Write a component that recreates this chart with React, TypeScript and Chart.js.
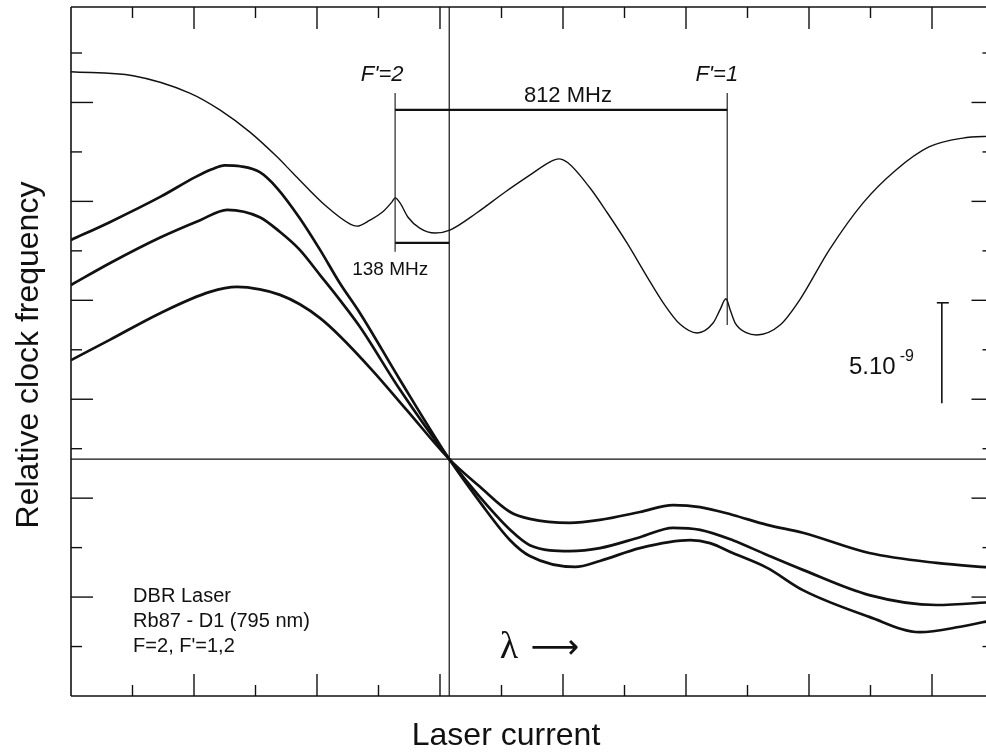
import React, { useEffect, useRef } from "react";
import { Chart, registerables } from "chart.js";

Chart.register(...registerables);

// ---- data (arbitrary units: 1 unit = one minor tick interval) ----
const signalX = [0, 1.01, 1.93, 2.42, 2.91, 3.35, 3.61, 4.16, 4.54, 4.65, 4.86, 5.07, 5.22, 5.27, 5.35, 5.48, 5.67, 5.92, 6.16, 6.6, 7.06, 7.46, 7.79, 7.93, 8.08, 8.44, 8.72, 9.04, 9.37, 9.63, 9.9, 10.18, 10.44, 10.55, 10.65, 10.72, 10.8, 10.99, 11.15, 11.53, 11.85, 12.33, 12.88, 13.41, 13.95, 14.5, 15];
const signalY = [12.62, 12.54, 12.19, 11.85, 11.4, 10.9, 10.57, 9.89, 9.54, 9.5, 9.62, 9.79, 9.99, 10.07, 9.97, 9.68, 9.46, 9.36, 9.42, 9.77, 10.19, 10.53, 10.8, 10.86, 10.78, 10.27, 9.77, 9.16, 8.47, 7.95, 7.52, 7.34, 7.54, 7.8, 8.03, 7.8, 7.54, 7.34, 7.3, 7.5, 8.01, 9.02, 9.97, 10.63, 11.1, 11.28, 11.32];

const curveAX = [0, 0.63, 1.45, 2.02, 2.29, 2.5, 2.75, 3.07, 3.35, 3.72, 4.05, 4.37, 4.7, 5.35, 6.15, 6.65, 7.14, 7.46, 8.2, 8.6, 9.25, 10.07, 10.39, 10.76, 11.32, 11.9, 12.98, 13.8, 14.46, 15];
const curveAY = [9.22, 9.58, 10.09, 10.49, 10.65, 10.73, 10.71, 10.59, 10.27, 9.66, 9.02, 8.35, 7.74, 6.39, 4.79, 3.92, 3.15, 2.83, 2.61, 2.73, 2.99, 3.15, 3.09, 2.89, 2.59, 2.14, 1.6, 1.29, 1.4, 1.54];

const curveBX = [0, 0.63, 1.45, 2.1, 2.54, 3.07, 3.4, 3.72, 4.05, 4.37, 4.7, 5.35, 6.15, 6.65, 7.14, 7.46, 8.11, 8.6, 9.25, 9.79, 10.23, 10.76, 11.32, 11.9, 12.98, 14.07, 15];
const curveBY = [8.31, 8.75, 9.27, 9.62, 9.83, 9.68, 9.38, 9.02, 8.51, 8.01, 7.46, 6.19, 4.79, 4.02, 3.36, 3.05, 2.93, 2.99, 3.21, 3.4, 3.36, 3.15, 2.85, 2.55, 2.04, 1.84, 1.9];

const curveCX = [0, 0.63, 1.45, 2.26, 2.7, 3.07, 3.4, 3.72, 4.05, 4.37, 4.91, 5.46, 6.15, 6.65, 7.14, 7.46, 8.11, 8.6, 9.25, 9.79, 10.23, 10.76, 11.32, 11.9, 12.98, 14.07, 15];
const curveCY = [6.79, 7.2, 7.74, 8.17, 8.27, 8.22, 8.11, 7.92, 7.64, 7.28, 6.57, 5.78, 4.79, 4.23, 3.72, 3.58, 3.5, 3.56, 3.72, 3.86, 3.82, 3.66, 3.46, 3.3, 2.89, 2.69, 2.59];

const xTicks = [1, 2, 3, 4, 5, 6, 7, 8, 9, 10, 11, 12, 13, 14];
const yTicks = [1, 2, 3, 4, 5, 6, 7, 8, 9, 10, 11, 12, 13];
const xMax = 15;
const yMax = 13.93;

const crossX = 6.15; // vertical reference line
const crossY = 4.79; // horizontal reference line

const peakF2X = 5.27;
const peakF1X = 10.67;
const f2LineY = [8.98, 12.19];
const f1LineY = [7.5, 12.19];
const span812Y = 11.85;
const span138Y = 9.16;
const scaleBarX = 14.16;
const scaleBarY = [5.92, 7.95];

const infoLines = ["DBR Laser", "Rb87 - D1 (795 nm)", "F=2, F'=1,2"];
const infoY = [1.9, 1.4, 0.89];

const INK = "#111";
const SANS = '"Liberation Sans", Arial, Helvetica, sans-serif';
const SERIF = '"Liberation Serif", "DejaVu Serif", serif';

function pts(xs: number[], ys: number[]) {
  return xs.map((x, i) => ({ x, y: ys[i] }));
}

const framePlugin = {
  id: "framePlugin",
  afterDatasetsDraw(chart: any) {
    const ctx = chart.ctx as CanvasRenderingContext2D;
    const xs = chart.scales.x;
    const ys = chart.scales.y;
    const X = (v: number) => xs.getPixelForValue(v);
    const Y = (v: number) => ys.getPixelForValue(v);
    const L = X(0), R = X(xMax), T = Y(yMax), B = Y(0);
    ctx.save();
    ctx.strokeStyle = INK;
    ctx.fillStyle = INK;
    ctx.lineCap = "butt";

    const line = (x1: number, y1: number, x2: number, y2: number, w: number) => {
      ctx.lineWidth = w;
      ctx.beginPath();
      ctx.moveTo(x1, y1);
      ctx.lineTo(x2, y2);
      ctx.stroke();
    };

    // frame
    line(L, T, R, T, 1.6);
    line(L, B, R, B, 1.6);
    line(L, T, L, B, 1.6);
    line(R, T, R, B, 1.6);

    // ticks (inward)
    xTicks.forEach((t) => {
      const len = t % 2 === 0 ? 22 : 11;
      const px = X(t);
      line(px, T, px, T + len, 1.4);
      line(px, B, px, B - len, 1.4);
    });
    yTicks.forEach((t) => {
      const len = t % 2 === 0 ? 22 : 11;
      const py = Y(t);
      line(L, py, L + len, py, 1.4);
      line(R, py, R - len, py, 1.4);
    });

    // reference lines
    line(X(crossX), T, X(crossX), B, 1.2);
    line(L, Y(crossY), R, Y(crossY), 1.2);

    // hyperfine annotations
    line(X(peakF2X), Y(f2LineY[0]), X(peakF2X), Y(f2LineY[1]), 1.1);
    line(X(peakF1X), Y(f1LineY[0]), X(peakF1X), Y(f1LineY[1]), 1.1);
    line(X(peakF2X), Y(span812Y), X(peakF1X), Y(span812Y), 2.2);
    line(X(peakF2X), Y(span138Y), X(crossX), Y(span138Y), 2.2);

    // scale bar
    line(X(scaleBarX), Y(scaleBarY[0]), X(scaleBarX), Y(scaleBarY[1]), 1.6);
    line(X(scaleBarX) - 5, Y(scaleBarY[1]), X(scaleBarX) + 7, Y(scaleBarY[1]), 1.6);

    // texts
    ctx.textBaseline = "alphabetic";
    ctx.textAlign = "center";
    ctx.font = `italic 22px ${SANS}`;
    ctx.fillText("F'=2", X(5.06), Y(12.43));
    ctx.fillText("F'=1", X(10.5), Y(12.43));
    ctx.font = `22px ${SANS}`;
    ctx.fillText("812 MHz", X(8.08), Y(12.01));
    ctx.font = `19px ${SANS}`;
    ctx.fillText("138 MHz", X(5.19), Y(8.51));

    ctx.textAlign = "left";
    ctx.font = `24px ${SANS}`;
    const sx = X(12.65), sy = Y(6.52);
    ctx.fillText("5.10", sx, sy);
    const w = ctx.measureText("5.10").width;
    ctx.font = `16px ${SANS}`;
    ctx.fillText("-9", sx + w + 4, sy - 13);

    ctx.font = `20px ${SANS}`;
    infoLines.forEach((s, i) => ctx.fillText(s, X(1.01), Y(infoY[i])));

    ctx.font = `38px ${SERIF}`;
    ctx.fillText("λ", X(6.97), Y(0.77));
    ctx.font = `34px "DejaVu Sans", sans-serif`;
    ctx.fillText("⟶", X(7.47), Y(0.77));

    // axis titles
    ctx.textAlign = "center";
    ctx.font = `32px ${SANS}`;
    ctx.fillText("Laser current", 506, 745);
    ctx.save();
    ctx.translate(38, 355);
    ctx.rotate(-Math.PI / 2);
    ctx.fillText("Relative clock frequency", 0, 0);
    ctx.restore();

    ctx.restore();
  },
};

export default function App() {
  const ref = useRef<HTMLCanvasElement | null>(null);
  useEffect(() => {
    if (!ref.current) return;
    const thick = { borderColor: INK, borderWidth: 2.7, pointRadius: 0, showLine: true, cubicInterpolationMode: "monotone", fill: false };
    const chart = new Chart(ref.current, {
      type: "scatter",
      data: {
        datasets: [
          { label: "signal", data: pts(signalX, signalY), borderColor: INK, borderWidth: 1.4, pointRadius: 0, showLine: true, cubicInterpolationMode: "monotone", fill: false },
          { label: "A", data: pts(curveAX, curveAY), ...thick },
          { label: "B", data: pts(curveBX, curveBY), ...thick },
          { label: "C", data: pts(curveCX, curveCY), ...thick },
        ] as any,
      },
      options: {
        animation: false,
        responsive: false,
        devicePixelRatio: 1,
        layout: { padding: { left: 71, right: 6.5, top: 7, bottom: 58 } },
        plugins: { legend: { display: false }, tooltip: { enabled: false } },
        scales: {
          x: { type: "linear", min: 0, max: xMax, display: false },
          y: { type: "linear", min: 0, max: yMax, display: false },
        },
      },
      plugins: [framePlugin],
    });
    return () => chart.destroy();
  }, []);
  return (
    <div style={{ position: "fixed", left: 0, top: 0, width: 986, height: 754, overflow: "hidden", background: "#fff" }}>
      <canvas ref={ref} width={1000} height={754} style={{ width: 1000, height: 754, display: "block" }} />
    </div>
  );
}
